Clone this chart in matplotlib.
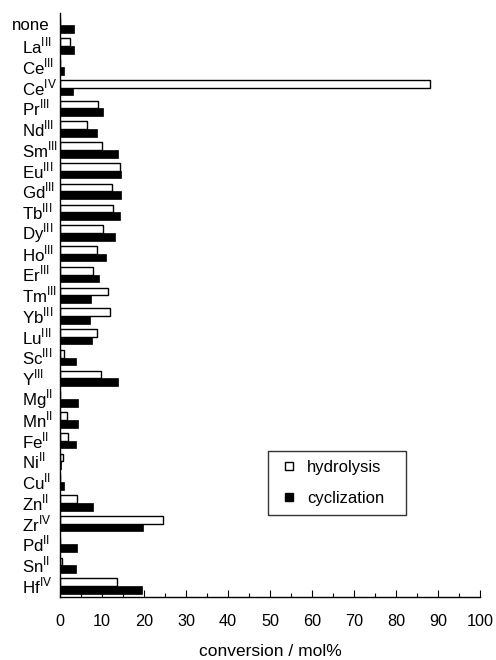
import numpy as np
import matplotlib
matplotlib.use("Agg")
import matplotlib.pyplot as plt
from matplotlib.lines import Line2D
from matplotlib.ticker import MultipleLocator
import matplotlib.transforms as mtransforms

plt.rcParams["font.family"] = ["Liberation Sans", "DejaVu Sans"]
plt.rcParams["mathtext.fontset"] = "custom"
plt.rcParams["mathtext.rm"] = "Liberation Sans"

# catalysts, top to bottom
elements = ["none", "La", "Ce", "Ce", "Pr", "Nd", "Sm", "Eu", "Gd", "Tb",
            "Dy", "Ho", "Er", "Tm", "Yb", "Lu", "Sc", "Y", "Mg", "Mn",
            "Fe", "Ni", "Cu", "Zn", "Zr", "Pd", "Sn", "Hf"]
oxidation = ["", "III", "III", "IV", "III", "III", "III", "III", "III", "III",
             "III", "III", "III", "III", "III", "III", "III", "III", "II", "II",
             "II", "II", "II", "II", "IV", "II", "II", "IV"]

# conversion / mol%
hydrolysis = [0.0, 2.3, 0.0, 88.0, 9.1, 6.4, 9.9, 14.2, 12.3, 12.6,
              10.3, 8.8, 7.8, 11.4, 12.0, 8.8, 1.0, 9.8, 0.0, 1.6,
              1.9, 0.7, 0.0, 4.1, 24.5, 0.0, 0.5, 13.5]
cyclization = [3.3, 3.4, 1.0, 3.1, 10.3, 8.7, 13.9, 14.5, 14.5, 14.2,
               13.1, 10.9, 9.3, 7.3, 7.1, 7.5, 3.9, 13.9, 4.3, 4.3,
               3.8, 0.3, 0.9, 7.8, 19.8, 4.0, 3.8, 19.4]

fig = plt.figure(figsize=(4.96, 6.6), dpi=100)
ax = fig.add_axes([0.121, 0.0955, 0.847, 0.885])

y = np.arange(len(elements))
h = 0.37
ax.barh(y - h / 2, hydrolysis, height=h, facecolor="white", edgecolor="black", linewidth=1.0)
ax.barh(y + h / 2, cyclization, height=h, facecolor="black", edgecolor="black", linewidth=0.5)

ax.set_xlim(0, 100)
ax.set_ylim(len(elements) - 0.47, -0.6)
ax.xaxis.set_major_locator(MultipleLocator(10))
ax.xaxis.set_minor_locator(MultipleLocator(5))
ax.tick_params(axis="x", which="major", direction="in", length=5, width=0.8, pad=12, labelsize=11.7)
ax.tick_params(axis="x", which="minor", direction="in", length=3, width=0.8)
ax.set_yticks([])
for s in ["top", "right"]:
    ax.spines[s].set_visible(False)
ax.spines["left"].set_linewidth(1.0)
ax.spines["bottom"].set_linewidth(1.0)

ax.set_xlabel("conversion / mol%", fontsize=12.5, labelpad=11)

# category labels, left-aligned at a fixed figure x
trans = mtransforms.blended_transform_factory(fig.transFigure, ax.transData)
for yi, el, ox in zip(y, elements, oxidation):
    if ox:
        txt = el + r"$^{\rm " + ox + "}$"
        x0 = 22 / 496
    else:
        txt = el
        x0 = 12 / 496
    ax.text(x0, yi, txt, transform=trans, ha="left", va="center", fontsize=12.2)

handles = [
    Line2D([], [], ls="none", marker="s", markersize=5.5, markerfacecolor="white",
           markeredgecolor="black", markeredgewidth=1.0),
    Line2D([], [], ls="none", marker="s", markersize=5.5, markerfacecolor="black",
           markeredgecolor="black"),
]
leg = ax.legend(handles, ["hydrolysis", "cyclization"], loc="upper left",
                bbox_to_anchor=(0.495, 0.134, 0.329, 0.116), mode="expand",
                fontsize=12, frameon=True, fancybox=False, handlelength=1.4,
                handletextpad=0.4, labelspacing=0.95, borderpad=0.55, borderaxespad=0)
leg.get_frame().set_edgecolor("black")
leg.get_frame().set_linewidth(1.0)

fig.savefig("out.png", dpi=100)
